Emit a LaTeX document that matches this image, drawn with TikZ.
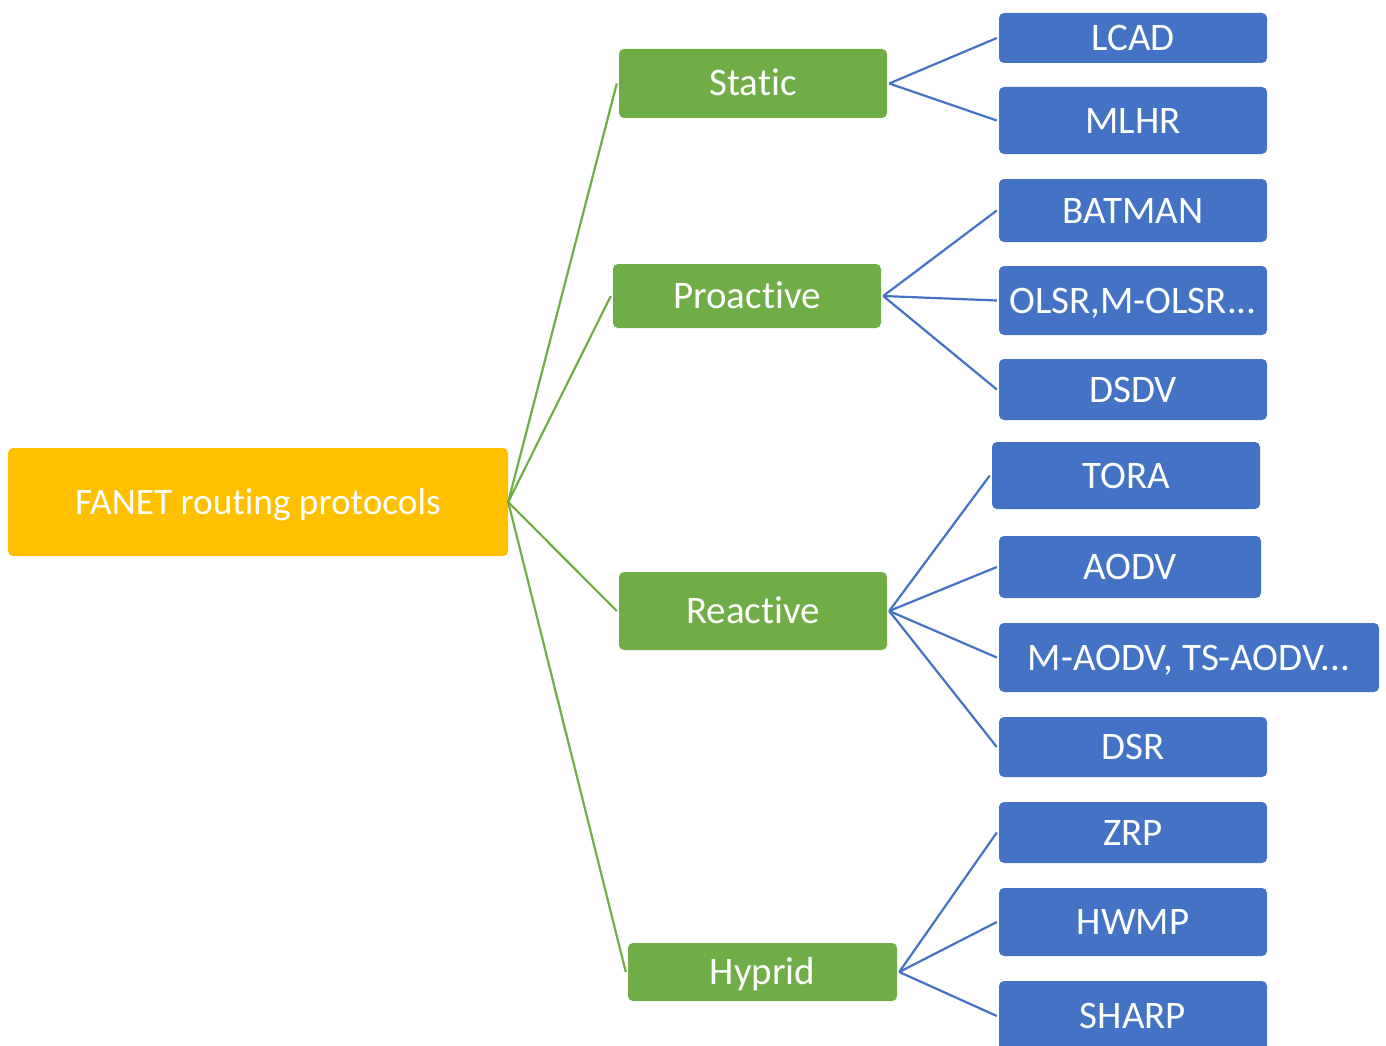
\documentclass[tikz,border=0pt]{standalone}
\usepackage{fontspec}
\setmainfont{Carlito}[Ligatures=NoCommon]
\definecolor{cOrange}{HTML}{FFC000}
\definecolor{cGreen}{HTML}{70AD47}
\definecolor{cBlue}{HTML}{4472C4}
\begin{document}
\begin{tikzpicture}[x=1pt,y=-1pt,
  box/.style={rectangle, rounded corners=5pt, inner sep=0pt, text=white,
    text height=25pt, text depth=0pt, font=\fontsize{39}{47}\selectfont},
  rootbox/.style={box, fill=cOrange, text height=24pt, font=\fontsize{37.3}{45}\selectfont},
  catbox/.style={box, fill=cGreen},
  leafbox/.style={box, fill=cBlue},
  gline/.style={draw=cGreen, line width=2.2pt},
  bline/.style={draw=cBlue, line width=2.2pt}]
\useasboundingbox (0,0) rectangle (1386,1046);
% root
\node[rootbox, minimum width=500pt, minimum height=108pt] (root) at (258,502) {FANET routing protocols};
% categories
\node[catbox, minimum width=268pt, minimum height=69pt] (static) at (753,83.5) {Static};
\node[catbox, minimum width=268pt, minimum height=64pt] (proactive) at (747,296) {Proactive};
\node[catbox, minimum width=268pt, minimum height=78pt] (reactive) at (753,611) {Reactive};
\node[catbox, minimum width=269pt, minimum height=58pt] (hyprid) at (762.5,972) {Hyprid};
% leaves
\node[leafbox, minimum width=268pt, minimum height=50pt] (lcad) at (1133,38) {LCAD};
\node[leafbox, minimum width=268pt, minimum height=67pt] (mlhr) at (1133,120.5) {MLHR};
\node[leafbox, minimum width=268pt, minimum height=63pt] (batman) at (1133,210.5) {BATMAN};
\node[leafbox, minimum width=268pt, minimum height=69pt] (olsr) at (1133,300.5) {OLSR,M-OLSR...};
\node[leafbox, minimum width=268pt, minimum height=61pt] (dsdv) at (1133,389.5) {DSDV};
\node[leafbox, minimum width=268pt, minimum height=67pt] (tora) at (1126,475.5) {TORA};
\node[leafbox, minimum width=262pt, minimum height=62pt] (aodv) at (1130,567) {AODV};
\node[leafbox, minimum width=380pt, minimum height=69pt] (maodv) at (1189,657.5) {M-AODV, TS-AODV...};
\node[leafbox, minimum width=268pt, minimum height=60pt] (dsr) at (1133,747) {DSR};
\node[leafbox, minimum width=268pt, minimum height=61pt] (zrp) at (1133,832.5) {ZRP};
\node[leafbox, minimum width=268pt, minimum height=68pt] (hwmp) at (1133,922) {HWMP};
\node[leafbox, minimum width=268pt, minimum height=70pt] (sharp) at (1133,1016) {SHARP};
% green connectors
\draw[gline] (root.east) -- ([xshift=-2pt]static.west);
\draw[gline] (root.east) -- ([xshift=-2pt]proactive.west);
\draw[gline] (root.east) -- ([xshift=-2pt]reactive.west);
\draw[gline] (root.east) -- ([xshift=-2pt]hyprid.west);
% blue connectors
\draw[bline] ([xshift=2pt]static.east) -- ([xshift=-2pt]lcad.west);
\draw[bline] ([xshift=2pt]static.east) -- ([xshift=-2pt]mlhr.west);
\draw[bline] ([xshift=2pt]proactive.east) -- ([xshift=-2pt]batman.west);
\draw[bline] ([xshift=2pt]proactive.east) -- ([xshift=-2pt]olsr.west);
\draw[bline] ([xshift=2pt]proactive.east) -- ([xshift=-2pt]dsdv.west);
\draw[bline] ([xshift=2pt]reactive.east) -- ([xshift=-2pt]tora.west);
\draw[bline] ([xshift=2pt]reactive.east) -- ([xshift=-2pt]aodv.west);
\draw[bline] ([xshift=2pt]reactive.east) -- ([xshift=-2pt]maodv.west);
\draw[bline] ([xshift=2pt]reactive.east) -- ([xshift=-2pt]dsr.west);
\draw[bline] ([xshift=2pt]hyprid.east) -- ([xshift=-2pt]zrp.west);
\draw[bline] ([xshift=2pt]hyprid.east) -- ([xshift=-2pt]hwmp.west);
\draw[bline] ([xshift=2pt]hyprid.east) -- ([xshift=-2pt]sharp.west);
\end{tikzpicture}
\end{document}
